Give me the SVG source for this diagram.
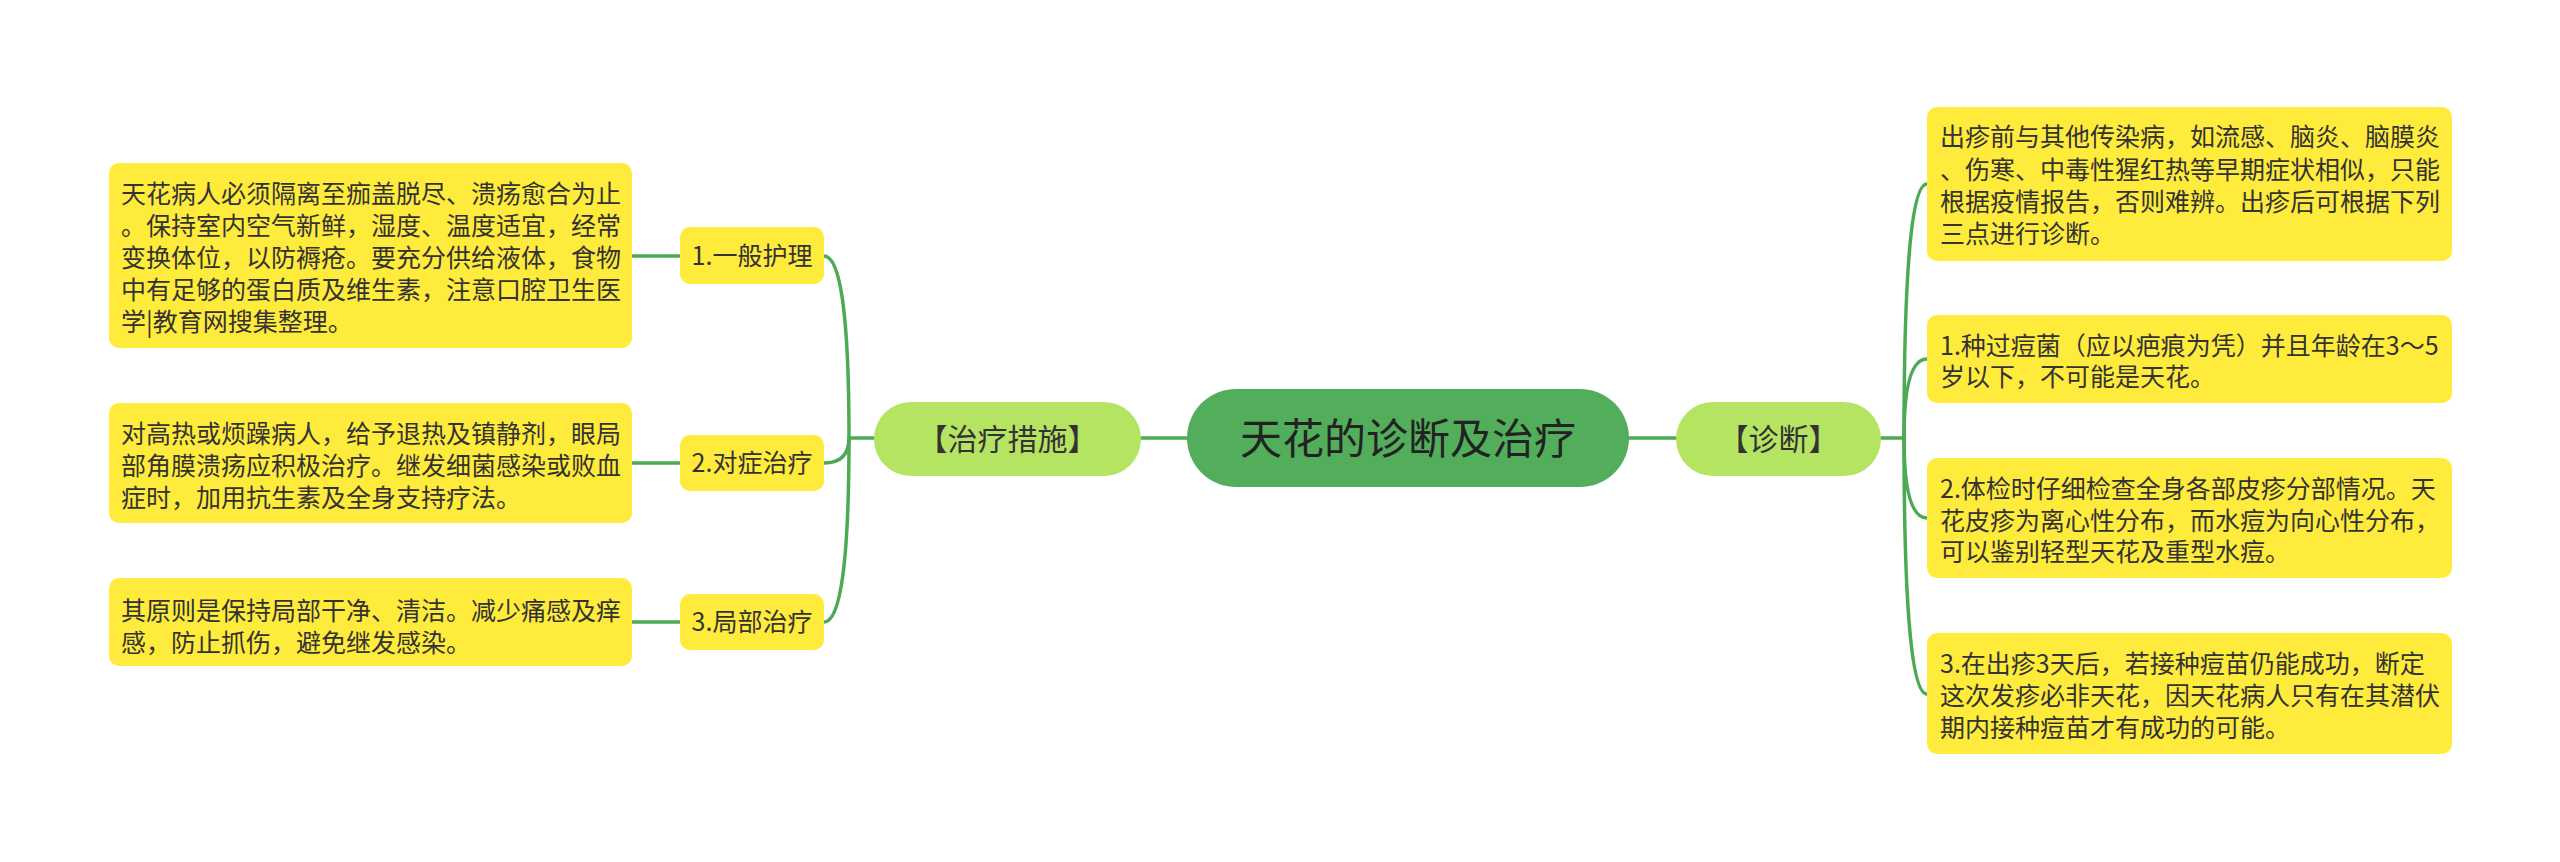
<svg xmlns="http://www.w3.org/2000/svg" width="2560" height="862" viewBox="0 0 2560 862">
<style>
text{font-family:"Noto Sans CJK SC","Noto Sans",sans-serif;fill:#333}
.leaf{fill:#ffeb3b}
.sub{fill:#b5e462}
.root{fill:#53ae5b}
.t25{font-size:25px}
.mid{text-anchor:middle}
.conn path{fill:none;stroke:#4caa55;stroke-width:3.5;stroke-linecap:round}
</style>
<rect width="2560" height="862" fill="#ffffff"/>
<g class="conn" id="connectors">
<path d="M1141 438 L1187 438"/>
<path d="M1629 438 L1676 438"/>
<path d="M874 438 L849 438"/>
<path d="M849 438 Q849 256 824 256"/>
<path d="M849 438 Q849 463 824 463"/>
<path d="M849 438 Q849 622 824 622"/>
<path d="M632 256 L680 256"/>
<path d="M632 463 L680 463"/>
<path d="M632 622 L680 622"/>
<path d="M1881 438 L1904 438"/>
<path d="M1904 438 Q1904 184 1927 184"/>
<path d="M1904 438 Q1904 359 1927 359"/>
<path d="M1904 438 Q1904 518 1927 518"/>
<path d="M1904 438 Q1904 694 1927 694"/>
</g>
<g id="root">
<rect class="root" x="1187" y="389" width="442" height="98" rx="49"/>
<text class="mid" x="1408" y="454" style="font-size:42px;fill:#222">天花的诊断及治疗</text>
</g>
<g id="treat">
<rect class="sub" x="874" y="402" width="267" height="74" rx="37"/>
<text class="mid" x="1007.5" y="450" style="font-size:30px">【治疗措施】</text>
</g>
<g id="diag">
<rect class="sub" x="1676" y="402" width="205" height="74" rx="37"/>
<text class="mid" x="1778.5" y="450" style="font-size:30px">【诊断】</text>
</g>
<g id="t1">
<rect class="leaf" x="680" y="227" width="144" height="57" rx="10"/>
<text class="t25 mid" x="752" y="265">1.一般护理</text>
</g>
<g id="t2">
<rect class="leaf" x="680" y="435" width="144" height="56" rx="10"/>
<text class="t25 mid" x="752" y="472">2.对症治疗</text>
</g>
<g id="t3">
<rect class="leaf" x="680" y="594" width="144" height="56" rx="10"/>
<text class="t25 mid" x="752" y="631">3.局部治疗</text>
</g>
<g id="t1d">
<rect class="leaf" x="109" y="163" width="523" height="185" rx="10"/>
<text class="t25" x="121" y="203">天花病人必须隔离至痂盖脱尽、溃疡愈合为止</text>
<text class="t25" x="121" y="235">。保持室内空气新鲜，湿度、温度适宜，经常</text>
<text class="t25" x="121" y="267">变换体位，以防褥疮。要充分供给液体，食物</text>
<text class="t25" x="121" y="299">中有足够的蛋白质及维生素，注意口腔卫生医</text>
<text class="t25" x="121" y="331">学|教育网搜集整理。</text>
</g>
<g id="t2d">
<rect class="leaf" x="109" y="403" width="523" height="120" rx="10"/>
<text class="t25" x="121" y="443">对高热或烦躁病人，给予退热及镇静剂，眼局</text>
<text class="t25" x="121" y="475">部角膜溃疡应积极治疗。继发细菌感染或败血</text>
<text class="t25" x="121" y="507">症时，加用抗生素及全身支持疗法。</text>
</g>
<g id="t3d">
<rect class="leaf" x="109" y="578" width="523" height="88" rx="10"/>
<text class="t25" x="121" y="620">其原则是保持局部干净、清洁。减少痛感及痒</text>
<text class="t25" x="121" y="652">感，防止抓伤，避免继发感染。</text>
</g>
<g id="d0">
<rect class="leaf" x="1927" y="107" width="525" height="154" rx="10"/>
<text class="t25" x="1940" y="146">出疹前与其他传染病，如流感、脑炎、脑膜炎</text>
<text class="t25" x="1940" y="179">、伤寒、中毒性猩红热等早期症状相似，只能</text>
<text class="t25" x="1940" y="211">根据疫情报告，否则难辨。出疹后可根据下列</text>
<text class="t25" x="1940" y="243">三点进行诊断。</text>
</g>
<g id="d1">
<rect class="leaf" x="1927" y="315" width="525" height="88" rx="10"/>
<text class="t25" x="1940" y="355">1.种过痘菌（应以疤痕为凭）并且年龄在3～5</text>
<text class="t25" x="1940" y="386">岁以下，不可能是天花。</text>
</g>
<g id="d2">
<rect class="leaf" x="1927" y="458" width="525" height="120" rx="10"/>
<text class="t25" x="1940" y="498">2.体检时仔细检查全身各部皮疹分部情况。天</text>
<text class="t25" x="1940" y="530">花皮疹为离心性分布，而水痘为向心性分布，</text>
<text class="t25" x="1940" y="561">可以鉴别轻型天花及重型水痘。</text>
</g>
<g id="d3">
<rect class="leaf" x="1927" y="633" width="525" height="121" rx="10"/>
<text class="t25" x="1940" y="673">3.在出疹3天后，若接种痘苗仍能成功，断定</text>
<text class="t25" x="1940" y="705">这次发疹必非天花，因天花病人只有在其潜伏</text>
<text class="t25" x="1940" y="737">期内接种痘苗才有成功的可能。</text>
</g>
</svg>
